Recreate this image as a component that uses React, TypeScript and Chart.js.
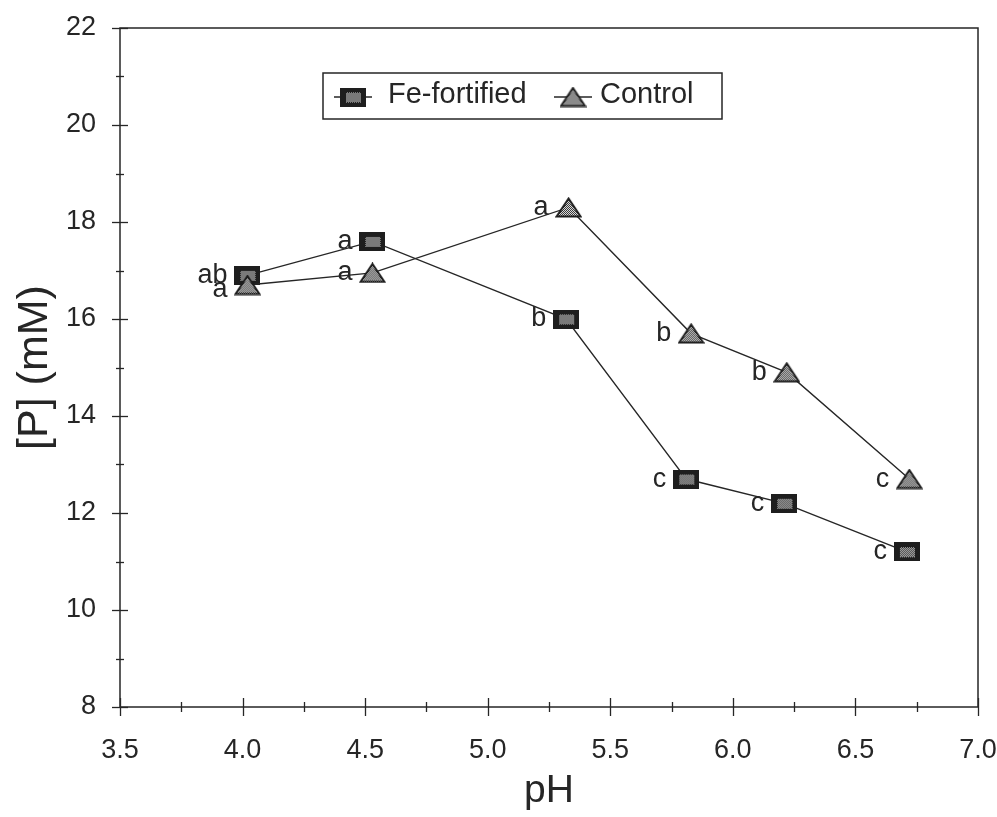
import React, { useEffect, useRef } from "react";
import { Chart, registerables } from "chart.js";

Chart.register(...registerables);

// pH of each sample and measured phosphate concentration [P] (mM)
const phFe = [4.02, 4.53, 5.32, 5.81, 6.21, 6.71];
const pFe = [16.9, 17.6, 16.0, 12.7, 12.2, 11.2];
const lettersFe = ["ab", "a", "b", "c", "c", "c"];

const phControl = [4.02, 4.53, 5.33, 5.83, 6.22, 6.72];
const pControl = [16.7, 16.95, 18.3, 15.7, 14.9, 12.7];
const lettersControl = ["a", "a", "a", "b", "b", "c"];

const seriesNames = ["Fe-fortified", "Control"];

const xMin = 3.5;
const xMax = 7.0;
const xStep = 0.5;
const yMin = 8;
const yMax = 22;
const yStep = 2;

const FONT = "'Liberation Sans', Arial, Helvetica, sans-serif";
const INK = "#262626";

function makeSquare(): HTMLCanvasElement {
  const c = document.createElement("canvas");
  c.width = 26;
  c.height = 19;
  const g = c.getContext("2d")!;
  g.fillStyle = "#1e1e1e";
  g.fillRect(0, 0, 26, 19);
  g.fillStyle = "#d6d6d6";
  for (let y = 5; y < 15; y++) {
    for (let x = 6; x < 21; x++) {
      if ((x + y) % 2 === 0) g.fillRect(x, y, 1, 1);
    }
  }
  return c;
}

function makeTriangle(): HTMLCanvasElement {
  const c = document.createElement("canvas");
  c.width = 27;
  c.height = 21;
  const g = c.getContext("2d")!;
  g.beginPath();
  g.moveTo(13.5, 1.5);
  g.lineTo(25.5, 19.5);
  g.lineTo(1.5, 19.5);
  g.closePath();
  g.save();
  g.clip();
  g.fillStyle = "#f2f2f2";
  g.fillRect(0, 0, 27, 21);
  g.fillStyle = "#222";
  for (let y = 0; y < 21; y++) {
    for (let x = 0; x < 27; x++) {
      if ((x + y) % 2 === 0) g.fillRect(x, y, 1, 1);
    }
  }
  g.restore();
  g.strokeStyle = "#1e1e1e";
  g.lineWidth = 2;
  g.stroke();
  return c;
}

export default function App() {
  const ref = useRef<HTMLCanvasElement | null>(null);

  useEffect(() => {
    if (!ref.current) return;
    const square = makeSquare();
    const triangle = makeTriangle();
    const letters = [lettersFe, lettersControl];

    // Crossing tick marks, major and minor, plus the frame around the plot
    const frameTicks = {
      id: "frameTicks",
      afterDraw(chart: any) {
        const { ctx, chartArea: a, scales } = chart;
        const xs = scales.x;
        const ys = scales.y;
        ctx.save();
        ctx.strokeStyle = INK;
        ctx.lineWidth = 1.5;
        ctx.strokeRect(a.left, a.top, a.right - a.left, a.bottom - a.top);
        ctx.lineWidth = 1.3;
        for (let v = yMin; v <= yMax + 1e-9; v += 1) {
          const y = Math.round(ys.getPixelForValue(v)) + 0.5;
          const len = Math.abs(v % 2) < 1e-9 ? 8 : 4;
          ctx.beginPath();
          ctx.moveTo(a.left - len, y);
          ctx.lineTo(a.left + len, y);
          ctx.stroke();
        }
        for (let v = xMin; v <= xMax + 1e-9; v += 0.25) {
          const x = Math.round(xs.getPixelForValue(v)) + 0.5;
          const major = Math.abs(v / xStep - Math.round(v / xStep)) < 1e-6;
          const len = major ? 9 : 5;
          ctx.beginPath();
          ctx.moveTo(x, a.bottom - len);
          ctx.lineTo(x, a.bottom + len);
          ctx.stroke();
        }
        ctx.restore();
      },
    };

    // Significance letters to the left of each marker
    const pointLetters = {
      id: "pointLetters",
      afterDatasetsDraw(chart: any) {
        const { ctx } = chart;
        ctx.save();
        ctx.fillStyle = INK;
        ctx.font = `27px ${FONT}`;
        ctx.textAlign = "right";
        ctx.textBaseline = "middle";
        chart.data.datasets.forEach((ds: any, di: number) => {
          const meta = chart.getDatasetMeta(di);
          const labels = letters[ds.seriesIndex];
          meta.data.forEach((pt: any, i: number) => {
            const dy = ds.seriesIndex === 1 && i === 0 ? 4 : 0;
            ctx.fillText(labels[i], pt.x - 20, pt.y + dy);
          });
        });
        ctx.restore();
      },
    };

    // Boxed legend inside the plot
    const boxLegend = {
      id: "boxLegend",
      afterDraw(chart: any) {
        const { ctx, chartArea: a } = chart;
        const left = a.left + 203;
        const top = a.top + 45;
        const w = 399;
        const h = 46;
        const cy = top + h / 2 + 1;
        ctx.save();
        ctx.strokeStyle = INK;
        ctx.lineWidth = 1.5;
        ctx.strokeRect(left, top, w, h);
        ctx.font = `29px ${FONT}`;
        ctx.fillStyle = INK;
        ctx.textAlign = "left";
        ctx.textBaseline = "middle";
        const items = [
          { img: square, x: left + 30, tx: left + 65, name: seriesNames[0] },
          { img: triangle, x: left + 250, tx: left + 277, name: seriesNames[1] },
        ];
        items.forEach((it) => {
          ctx.lineWidth = 1.3;
          ctx.beginPath();
          ctx.moveTo(it.x - 19, cy);
          ctx.lineTo(it.x + 19, cy);
          ctx.stroke();
          ctx.drawImage(it.img, it.x - it.img.width / 2, cy - it.img.height / 2);
          ctx.fillText(it.name, it.tx, cy - 2);
        });
        ctx.restore();
      },
    };

    const chart = new Chart(ref.current, {
      type: "line",
      data: {
        datasets: [
          {
            label: seriesNames[0],
            seriesIndex: 0,
            data: phFe.map((x, i) => ({ x, y: pFe[i] })),
            borderColor: INK,
            borderWidth: 1.4,
            pointStyle: square,
            pointRadius: 10,
            order: 1,
          } as any,
          {
            label: seriesNames[1],
            seriesIndex: 1,
            data: phControl.map((x, i) => ({ x, y: pControl[i] })),
            borderColor: INK,
            borderWidth: 1.4,
            pointStyle: triangle,
            pointRadius: 10,
            order: 0,
          } as any,
        ],
      },
      options: {
        responsive: false,
        animation: false,
        layout: { padding: { top: 28, right: 19, left: 0, bottom: 0 } },
        plugins: {
          legend: { display: false },
          tooltip: { enabled: false },
        },
        scales: {
          x: {
            type: "linear",
            min: xMin,
            max: xMax,
            grid: { display: false, drawTicks: false },
            border: { display: false },
            ticks: {
              stepSize: xStep,
              padding: 27,
              color: INK,
              autoSkip: false,
              maxRotation: 0,
              font: { family: FONT, size: 27 },
              callback: (v: any) => Number(v).toFixed(1),
            },
            title: {
              display: true,
              text: "pH",
              color: INK,
              font: { family: FONT, size: 39 },
              padding: { top: 0, bottom: 2 },
            },
            afterFit: (s: any) => {
              s.height = 110;
              s.paddingLeft = 0;
              s.paddingRight = 0;
            },
          },
          y: {
            type: "linear",
            min: yMin,
            max: yMax,
            grid: { display: false, drawTicks: false },
            border: { display: false },
            ticks: {
              stepSize: yStep,
              padding: 24,
              color: INK,
              font: { family: FONT, size: 27 },
            },
            title: {
              display: true,
              text: "[P] (mM)",
              color: INK,
              font: { family: FONT, size: 43 },
              padding: { top: 9, bottom: 0 },
            },
            afterFit: (s: any) => {
              s.width = 120;
              s.paddingTop = 0;
              s.paddingBottom = 0;
            },
          },
        },
      },
      plugins: [frameTicks, pointLetters, boxLegend],
    });

    return () => chart.destroy();
  }, []);

  return (
    <div style={{ position: "absolute", left: 0, top: 0, width: 997, height: 817, background: "#fff" }}>
      <canvas ref={ref} width={997} height={817} style={{ display: "block" }} />
    </div>
  );
}
